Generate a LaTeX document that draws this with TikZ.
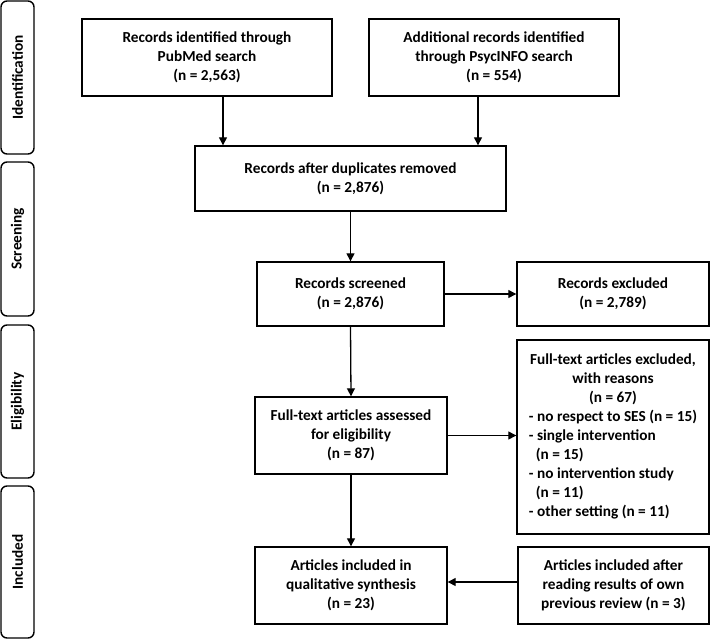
\documentclass[tikz,border=0pt]{standalone}
\usepackage{fontspec}
\setmainfont{Carlito}
\usetikzlibrary{arrows.meta,calc}
\begin{document}
\begin{tikzpicture}[x=1pt,y=-1pt,
  every node/.style={font=\bfseries\fontsize{15.3}{19}\selectfont},
  box/.style={draw,line width=1.4pt,align=center,inner sep=0pt},
  stage/.style={draw,line width=1.4pt,rounded corners=6pt,rotate=90,minimum height=33pt,inner sep=0pt},
  arr/.style={line width=1.3pt,-{Triangle[length=8pt,width=8pt]}}]
\useasboundingbox (0,0) rectangle (710,640);
% stages
\node[stage,minimum width=153pt] (s1) at (17.5,77.5) {Identification};
\node[stage,minimum width=154pt] (s2) at (17.5,239) {Screening};
\node[stage,minimum width=153pt] (s3) at (17.5,401.5) {Eligibility};
\node[stage,minimum width=152pt] (s4) at (17.5,562) {Included};
% boxes
\node[box,minimum width=250pt,minimum height=77pt] (b1) at (207,57.5) {Records identified through\\PubMed search\\(n = 2,563)};
\node[box,minimum width=250pt,minimum height=77pt] (b2) at (494,57.5) {Additional records identified\\through PsycINFO search\\(n = 554)};
\node[box,minimum width=311pt,minimum height=65pt] (b3) at (350.5,178.5) {Records after duplicates removed\\(n = 2,876)};
\node[box,minimum width=187pt,minimum height=64pt] (b4) at (350.5,294) {Records screened\\(n = 2,876)};
\node[box,minimum width=192pt,minimum height=64pt] (b5) at (613,294) {Records excluded\\(n = 2,789)};
\node[box,minimum width=192pt,minimum height=194pt] (b6) at (613,437) {\begin{tabular}{@{}l@{}}
\multicolumn{1}{@{}c@{}}{Full-text articles excluded,}\\
\multicolumn{1}{@{}c@{}}{with reasons}\\
\multicolumn{1}{@{}c@{}}{(n = 67)}\\
- no respect to SES (n = 15)\\
- single intervention\\
\ \ (n = 15)\\
- no intervention study\\
\ \ (n = 11)\\
- other setting (n = 11)
\end{tabular}};
\node[box,minimum width=192pt,minimum height=77pt] (b7) at (351,435.5) {Full-text articles assessed\\for eligibility\\(n = 87)};
\node[box,minimum width=192pt,minimum height=77pt] (b8) at (351,585.5) {Articles included in\\qualitative synthesis\\(n = 23)};
\node[box,minimum width=191pt,minimum height=77pt] (b9) at (613.5,585.5) {Articles included after\\reading results of own\\previous review (n = 3)};
% arrows
\draw[arr] ([xshift=16pt]b1.south) -- ([xshift=16pt]b1.south |- b3.north);
\draw[arr] ([xshift=-16pt]b2.south) -- ([xshift=-16pt]b2.south |- b3.north);
\draw[arr] (b3.south) -- (b4.north);
\draw[arr] (b4.east) -- (b5.west);
\draw[arr] (b4.south) -- (b7.north);
\draw[arr] (b7.east) -- (b7.east -| b6.west);
\draw[arr] (b7.south) -- (b8.north);
\draw[arr] ([yshift=3.5pt]b9.west) -- ([yshift=3.5pt]b9.west -| b8.east);
\end{tikzpicture}
\end{document}
